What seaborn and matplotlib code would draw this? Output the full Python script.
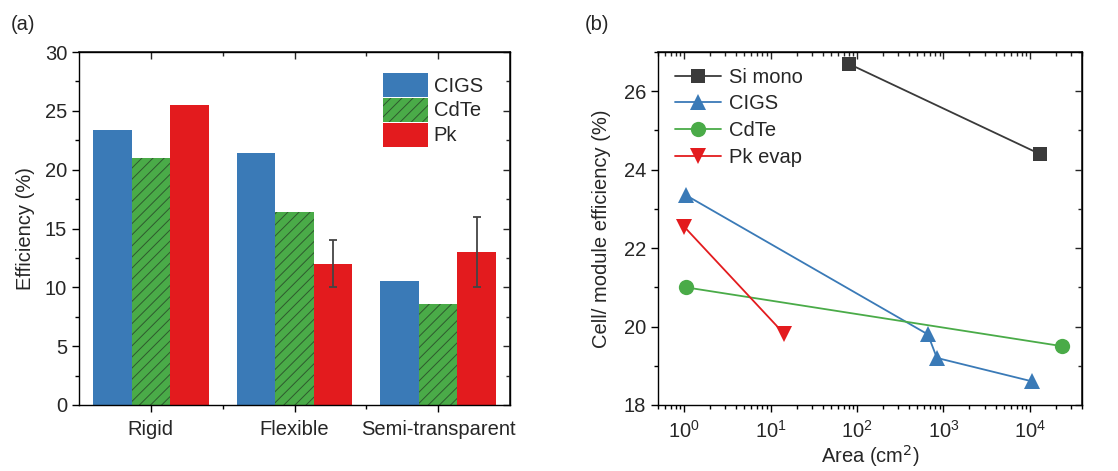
import numpy as np
import pandas as pd
import matplotlib
matplotlib.use("Agg")
import matplotlib.pyplot as plt
import seaborn as sns
from matplotlib.ticker import MultipleLocator, LogLocator, NullFormatter

# ---- panel (a) data ----
categories = ["Rigid", "Flexible", "Semi-transparent"]
materials = ["CIGS", "CdTe", "Pk"]
cigs_eff = [23.4, 21.4, 10.5]
cdte_eff = [21.0, 16.4, 8.6]
pk_eff = [25.5, 12.0, 13.0]
pk_err = [np.nan, 2.0, 3.0]

# ---- panel (b) data ----
si_area = [80, 1.3e4]
si_eff = [26.7, 24.4]
cigs_area = [1.05, 660, 840, 1.07e4]
cigs_line_eff = [23.35, 19.8, 19.2, 18.6]
cdte_area = [1.05, 2.35e4]
cdte_line_eff = [21.0, 19.5]
pkev_area = [1.0, 14.3]
pkev_eff = [22.55, 19.82]

blue = "#3a7ab7"
green = "#4aab48"
red = "#e31b1e"
grey = "#3a3a3a"

sns.set_theme(style="ticks")
plt.rcParams["font.family"] = ["Liberation Sans", "DejaVu Sans"]
plt.rcParams["hatch.linewidth"] = 0.7

fig = plt.figure(figsize=(11.18, 4.71), dpi=100)
ax1 = fig.add_axes([79 / 1118, 66 / 471, 431 / 1118, 353 / 471])
ax2 = fig.add_axes([658 / 1118, 66 / 471, 424 / 1118, 353 / 471])

fs = 14.5

df = pd.DataFrame({
    "cat": categories * 3,
    "mat": ["CIGS"] * 3 + ["CdTe"] * 3 + ["Pk"] * 3,
    "eff": cigs_eff + cdte_eff + pk_eff,
})
sns.barplot(data=df, x="cat", y="eff", hue="mat", hue_order=materials,
            palette=[blue, green, red], saturation=1, width=0.805,
            linewidth=0, legend=False, ax=ax1)

for bar in ax1.containers[1]:
    bar.set_hatch("///")
    bar.set_edgecolor("#2e5a2e")
    bar.set_linewidth(0)

pk_x = [b.get_x() + b.get_width() / 2 for b in ax1.containers[2]]
ax1.errorbar(pk_x, pk_eff, yerr=pk_err, fmt="none", ecolor="#444444",
             elinewidth=1.3, capsize=3, capthick=1.3)

ax1.legend(ax1.containers, materials, loc="upper right",
           bbox_to_anchor=(0.965, 0.975), frameon=False, fontsize=fs,
           handlelength=2.2, handleheight=1.45, labelspacing=0.05,
           handletextpad=0.3, borderaxespad=0.2)

ax1.set_ylim(0, 30)
ax1.set_xlim(-0.5, 2.5)
ax1.set_xlabel("")
ax1.set_ylabel("Efficiency (%)", fontsize=fs, labelpad=7)
ax1.yaxis.set_major_locator(MultipleLocator(5))
ax1.yaxis.set_minor_locator(MultipleLocator(2.5))
ax1.set_xticks([0, 1, 2])
ax1.set_xticks([0.5, 1.5], minor=True)
ax1.tick_params(axis="both", which="both", direction="out", labelsize=fs,
                color="black", width=1)
ax1.tick_params(which="major", length=5)
ax1.tick_params(which="minor", length=3)
ax1.tick_params(axis="x", pad=6)

sec1x = ax1.secondary_xaxis("top")
sec1x.set_xticks([0, 1, 2])
sec1x.set_xticks([0.5, 1.5], minor=True)
sec1x.xaxis.set_major_formatter(NullFormatter())
sec1y = ax1.secondary_yaxis("right")
sec1y.yaxis.set_major_locator(MultipleLocator(5))
sec1y.yaxis.set_minor_locator(MultipleLocator(2.5))
sec1y.yaxis.set_major_formatter(NullFormatter())
for s in (sec1x, sec1y):
    s.tick_params(which="both", direction="in", width=1)
    s.tick_params(which="major", length=5)
    s.tick_params(which="minor", length=3)

# ---- panel (b) ----
ms = 10
sns.lineplot(x=si_area, y=si_eff, ax=ax2, color=grey, marker="s", ms=ms,
             lw=1.3, markeredgewidth=0, label="Si mono")
sns.lineplot(x=cigs_area, y=cigs_line_eff, ax=ax2, color=blue, marker="^",
             ms=ms + 2, lw=1.3, markeredgewidth=0, label="CIGS", sort=False)
sns.lineplot(x=cdte_area, y=cdte_line_eff, ax=ax2, color=green, marker="o",
             ms=ms + 1, lw=1.3, markeredgewidth=0, label="CdTe")
sns.lineplot(x=pkev_area, y=pkev_eff, ax=ax2, color=red, marker="v",
             ms=ms + 2, lw=1.3, markeredgewidth=0, label="Pk evap")

ax2.set_xscale("log")
ax2.set_xlim(0.5, 4e4)
ax2.set_ylim(18, 27)
ax2.set_xlabel("Area (cm$^{2}$)", fontsize=fs, labelpad=1)
ax2.set_ylabel("Cell/ module efficiency (%)", fontsize=fs, labelpad=9)
ax2.yaxis.set_major_locator(MultipleLocator(2))
ax2.yaxis.set_minor_locator(MultipleLocator(1))
ax2.xaxis.set_major_locator(LogLocator(base=10, numticks=10))
ax2.xaxis.set_minor_locator(LogLocator(base=10, subs=np.arange(2, 10), numticks=20))
ax2.xaxis.set_minor_formatter(NullFormatter())
ax2.tick_params(axis="both", which="both", direction="out", labelsize=fs,
                color="black", width=1)
ax2.tick_params(which="major", length=5)
ax2.tick_params(which="minor", length=3)
ax2.tick_params(axis="x", pad=6)

sec2x = ax2.secondary_xaxis("top")
sec2x.xaxis.set_major_locator(LogLocator(base=10, numticks=10))
sec2x.xaxis.set_minor_locator(LogLocator(base=10, subs=np.arange(2, 10), numticks=20))
sec2x.xaxis.set_major_formatter(NullFormatter())
sec2x.xaxis.set_minor_formatter(NullFormatter())
sec2y = ax2.secondary_yaxis("right")
sec2y.yaxis.set_major_locator(MultipleLocator(2))
sec2y.yaxis.set_minor_locator(MultipleLocator(1))
sec2y.yaxis.set_major_formatter(NullFormatter())
for s in (sec2x, sec2y):
    s.tick_params(which="both", direction="in", width=1)
    s.tick_params(which="major", length=5)
    s.tick_params(which="minor", length=3)

ax2.legend(loc="upper left", bbox_to_anchor=(0.012, 0.99), frameon=False,
           fontsize=fs, handlelength=2.3, labelspacing=0.38,
           handletextpad=0.35, borderaxespad=0.2)

for ax in (ax1, ax2):
    for sp in ax.spines.values():
        sp.set_color("black")
        sp.set_linewidth(1)

fig.text(11 / 1118, 1 - 25 / 471, "(a)", fontsize=14.5, va="center", ha="left")
fig.text(585 / 1118, 1 - 25 / 471, "(b)", fontsize=14.5, va="center", ha="left")

fig.savefig("out.png", dpi=100)
